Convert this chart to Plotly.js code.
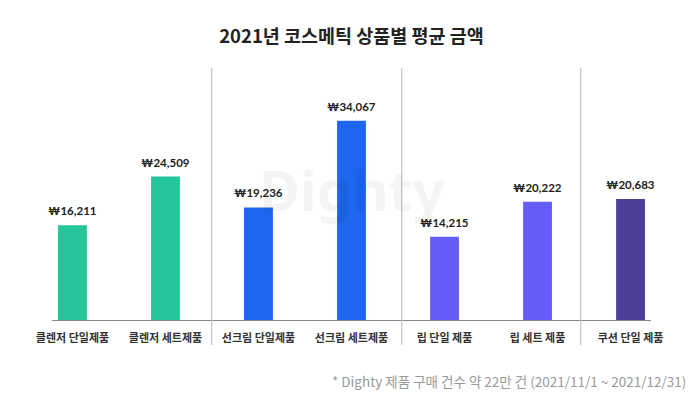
<!DOCTYPE html>
<html>
<head>
<meta charset="utf-8">
<script src="https://cdn.plot.ly/plotly-3.0.1.min.js"></script>
<style>html,body{margin:0;padding:0;background:#fff;}#chart{width:700px;height:396px;}</style>
</head>
<body>
<div id="chart"></div>
<script>
const categories = ["클렌저 단일제품", "클렌저 세트제품", "선크림 단일제품", "선크림 세트제품", "립 단일 제품", "립 세트 제품", "쿠션 단일 제품"];
const values = [16211, 24509, 19236, 34067, 14215, 20222, 20683];
const valueLabels = ["₩16,211", "₩24,509", "₩19,236", "₩34,067", "₩14,215", "₩20,222", "₩20,683"];
const barColors = ["#25C59C", "#25C59C", "#1F66EE", "#1F66EE", "#665CFA", "#665CFA", "#4B3F99"];
const groupDividers = [1.497, 3.54, 5.465];

const xs = categories.map((c, i) => i);
const korean = "'Noto Sans CJK KR', 'Noto Sans', sans-serif";

const trace = {
  type: "bar",
  x: xs,
  y: values,
  width: 0.31,
  marker: {color: barColors, line: {width: 0}},
  hoverinfo: "skip"
};

const annotations = values.map((v, i) => ({
  x: xs[i], y: v, xref: "x", yref: "y",
  text: valueLabels[i], showarrow: false,
  yanchor: "bottom", yshift: 6,
  font: {family: "Lato, " + korean, size: 11.5, color: "#222", weight: 700}
}));

annotations.push({
  x: 0.5, y: 0.52, xref: "paper", yref: "paper",
  text: "Dighty", showarrow: false,
  font: {family: "'Noto Sans', sans-serif", size: 56, color: "rgba(0,0,0,0.045)", weight: 700}
});

const plotL = 52, plotR = 651, plotT = 68, plotB = 320;
annotations.push({
  x: (688 - plotL) / (plotR - plotL), y: (plotB - 381) / (plotB - plotT),
  xref: "paper", yref: "paper",
  text: "* Dighty 제품 구매 건수 약 22만 건 (2021/11/1 ~ 2021/12/31)",
  showarrow: false, xanchor: "right", yanchor: "middle",
  font: {family: korean, size: 13.5, color: "#9a9a9a"}
});

const shapes = groupDividers.map(d => ({
  type: "line", xref: "x", yref: "paper",
  x0: d, x1: d, y0: -0.099, y1: 1,
  line: {color: "#c4c4c4", width: 1.2}
}));

const layout = {
  width: 700, height: 396,
  margin: {l: plotL, r: 700 - plotR, t: plotT, b: 396 - plotB},
  paper_bgcolor: "#fff", plot_bgcolor: "rgba(0,0,0,0)",
  title: {
    text: "2021년 코스메틱 상품별 평균 금액",
    x: 0.5, xref: "paper", xanchor: "center",
    y: 1 - 37 / 396, yref: "container", yanchor: "middle",
    font: {family: korean, size: 18.5, color: "#222", weight: 700}
  },
  xaxis: {
    range: [-0.22, 6.22],
    tickvals: xs, ticktext: categories,
    showline: true, linecolor: "#888", linewidth: 1,
    showgrid: false, zeroline: false, ticks: "",
    tickfont: {family: korean, size: 11, color: "#333", weight: 700},
    ticklabelstandoff: 8,
    fixedrange: true
  },
  yaxis: {
    range: [0, 43077],
    visible: false, showgrid: false, zeroline: false,
    fixedrange: true
  },
  showlegend: false,
  shapes: shapes,
  annotations: annotations
};

Plotly.newPlot("chart", [trace], layout, {displayModeBar: false, staticPlot: true});
</script>
</body>
</html>
